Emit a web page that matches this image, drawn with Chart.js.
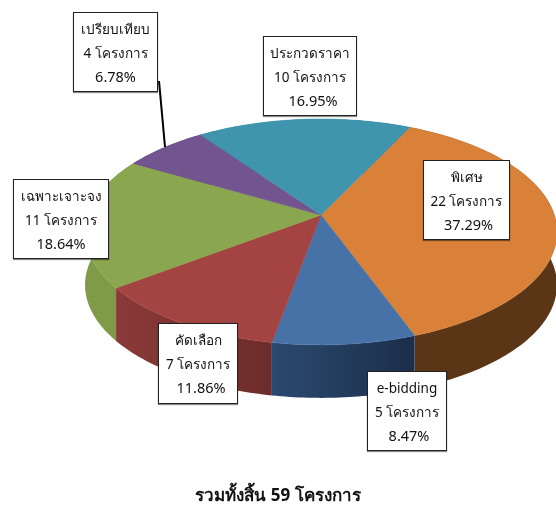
<!DOCTYPE html>
<html>
<head>
<meta charset="utf-8">
<style>
  html, body { margin: 0; padding: 0; background: #fff; }
  canvas { display: block; }
</style>
<script src="https://cdn.jsdelivr.net/npm/chart.js@4"></script>
</head>
<body>
<canvas id="pie3d" width="556" height="506"></canvas>
<script>
// values
const categories = ['พิเศษ', 'e-bidding', 'คัดเลือก', 'เฉพาะเจาะจง', 'เปรียบเทียบ', 'ประกวดราคา'];
const projects = [22, 5, 7, 11, 4, 10];
const percents = ['37.29%', '8.47%', '11.86%', '18.64%', '6.78%', '16.95%'];
const titleText = 'รวมทั้งสิ้น 59 โครงการ';

const topColors = ['#d98139', '#4672a8', '#a44442', '#8aa64e', '#72558f', '#3f95ae'];
const sideLeft = ['#5c3818', '#2b4a6f', '#8a3a38', '#7f9b48', '#5a4372', '#2f7388'];
const sideRight = ['#5a3616', '#1b2e4a', '#6c2c2b', '#6f8a3c', '#5a4372', '#2f7388'];

// label boxes: left, top, right, bottom, and nudge of the percent line
const boxes = [
    [423, 160, 510, 240, 2],
    [367, 371, 447, 451, 2],
    [158, 323, 238, 404, 3],
    [13, 179, 109, 259, 0],
    [73, 12, 158, 92, 0],
    [263, 36, 357, 116, 3]
];

// the tilted disc: apex, perspective and wall height
const cx = 321, cy = 215, ax = 233.3, ky = 110.4, persp = 0.15, depth = 53;
const fontName = '"Noto Sans", "DejaVu Sans", sans-serif';

function rim(angle, drop) {
    let w = 1 - persp * Math.sin(angle);
    return [cx + ax * Math.cos(angle) / w, cy + ky * Math.sin(angle) / w + drop];
}

function tracePoints(ctx, start, end, drop) {
    let steps = Math.max(4, Math.ceil(Math.abs(end - start) * 60));
    for (let i = 0; i <= steps; i++) {
        let p = rim(start + (end - start) * i / steps, drop);
        ctx.lineTo(p[0], p[1]);
    }
}

const disc3d = {
    id: 'disc3d',
    beforeDatasetDraw(chart, args) {
        let ctx = chart.ctx;
        let arcs = chart.getDatasetMeta(args.index).data;
        // walls first, the top faces hide whatever is at the back
        arcs.forEach((arc, i) => {
            let a = rim(arc.startAngle, 0), b = rim(arc.endAngle, 0);
            let grad = ctx.createLinearGradient(Math.min(a[0], b[0]), 0, Math.max(a[0], b[0]), 0);
            grad.addColorStop(0, sideLeft[i]);
            grad.addColorStop(1, sideRight[i]);
            ctx.beginPath();
            ctx.moveTo(a[0], a[1]);
            tracePoints(ctx, arc.startAngle, arc.endAngle, 0);
            tracePoints(ctx, arc.endAngle, arc.startAngle, depth);
            ctx.closePath();
            ctx.fillStyle = grad;
            ctx.fill();
        });
        arcs.forEach((arc, i) => {
            ctx.beginPath();
            ctx.moveTo(cx, cy);
            tracePoints(ctx, arc.startAngle, arc.endAngle, 0);
            ctx.closePath();
            ctx.fillStyle = topColors[i];
            ctx.strokeStyle = topColors[i];
            ctx.lineWidth = 0.5;
            ctx.fill();
            ctx.stroke();
        });
        return false;
    },
    afterDraw(chart) {
        let ctx = chart.ctx;
        ctx.save();
        // leader line of เปรียบเทียบ
        ctx.strokeStyle = '#000';
        ctx.lineWidth = 2;
        ctx.beginPath();
        ctx.moveTo(159, 81);
        ctx.lineTo(165, 147);
        ctx.stroke();

        ctx.textAlign = 'center';
        ctx.textBaseline = 'middle';
        categories.forEach((name, i) => {
            let [l, t, r, b, nudge] = boxes[i];
            ctx.fillStyle = '#fff';
            ctx.shadowColor = 'rgba(0,0,0,0.45)';
            ctx.shadowBlur = 1;
            ctx.shadowOffsetY = 1;
            ctx.fillRect(l, t, r - l, b - t);
            ctx.shadowColor = 'transparent';
            ctx.strokeStyle = '#222';
            ctx.lineWidth = 1;
            ctx.strokeRect(l + 0.5, t + 0.5, r - l - 1, b - t - 1);
            ctx.fillStyle = '#111';
            let mid = (l + r) / 2;
            ctx.font = '13.5px ' + fontName;
            ctx.fillText(name, mid, t + 18);
            ctx.fillText(projects[i] + ' โครงการ', mid, t + 42);
            ctx.font = '14.5px ' + fontName;
            ctx.fillText(percents[i], mid + nudge, t + 66);
        });
        ctx.restore();
    }
};

new Chart(document.getElementById('pie3d'), {
    type: 'pie',
    data: {
        labels: categories,
        datasets: [{ data: projects, backgroundColor: topColors, borderWidth: 0 }]
    },
    options: {
        responsive: false,
        animation: false,
        rotation: 25.6,
        plugins: {
            legend: { display: false },
            tooltip: { enabled: false },
            title: {
                display: true,
                text: titleText,
                position: 'bottom',
                color: '#111',
                font: { family: fontName, size: 17, weight: 'bold' },
                padding: { top: 0, bottom: 0 }
            }
        }
    },
    plugins: [disc3d]
});
</script>
</body>
</html>
